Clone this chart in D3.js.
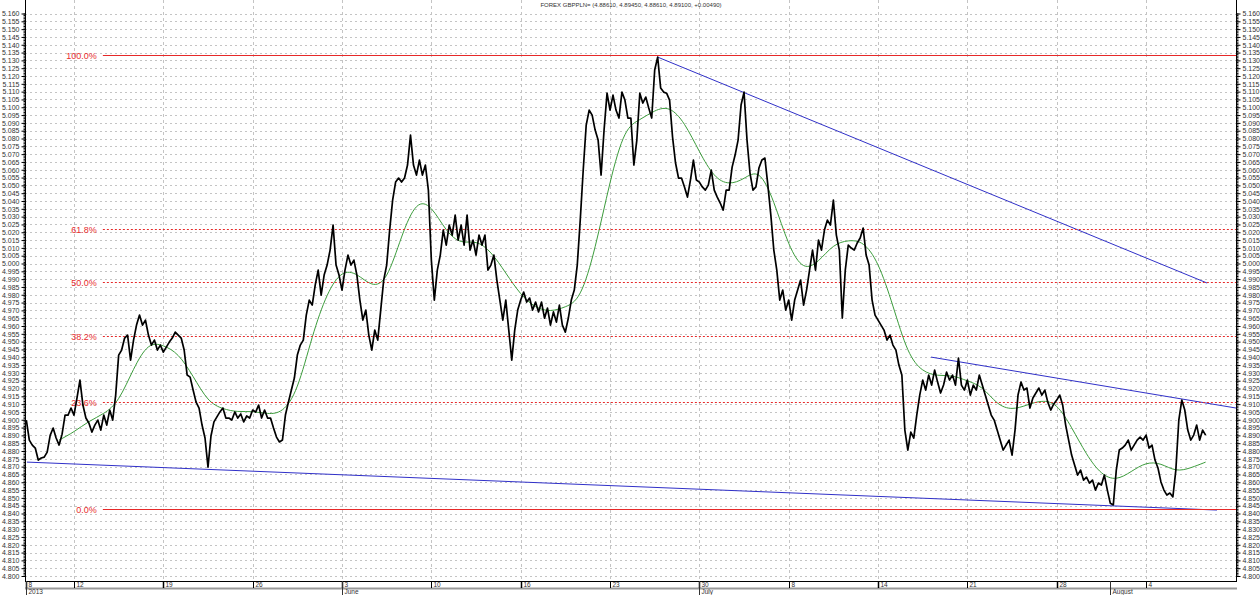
<!DOCTYPE html>
<html><head><meta charset="utf-8">
<script src="https://cdn.jsdelivr.net/npm/d3@7"></script>
<style>
body{margin:0;background:#fff}
svg{display:block}
text{font-family:"Liberation Sans",Arial,sans-serif}
</style>
</head><body>
<svg id="c" width="1260" height="595"></svg>
<script>
// ---------- DATA ----------
const title = "FOREX GBPPLN= (4.88610, 4.89450, 4.88610, 4.89100, +0.00490)";
// 4-hour bars; bar 0 = start of week of 12/13 May 2013, 30 bars per week
const firstBar = -16;
const price = [
 4.8998,4.8870,4.8838,4.8819,4.8742,4.8755,4.8761,4.8793,4.8900,4.8947,4.8883,4.8838,4.8908,4.9030,4.9030,4.9075,
 4.9030,4.9139,4.9254,4.9094,4.9011,4.8979,4.8921,4.8966,4.8998,4.8934,4.9030,4.8966,4.9062,4.8998,4.9158,4.9414,4.9446,4.9523,4.9542,4.9382,4.9510,4.9606,4.9670,4.9606,4.9638,4.9542,4.9478,4.9510,4.9446,4.9478,
 4.9433,4.9465,4.9497,4.9523,4.9561,4.9542,4.9523,4.9446,4.9286,4.9273,4.9190,4.9113,4.9075,4.8966,4.8883,4.8697,4.8896,4.8986,4.9018,4.9050,4.9075,4.9011,4.9011,4.8998,4.9050,4.9011,4.9037,4.8986,4.9024,4.9011,
 4.9062,4.9049,4.9094,4.9011,4.9062,4.9011,4.9011,4.8947,4.8889,4.8858,4.8870,4.9030,4.9113,4.9190,4.9267,4.9414,4.9478,4.9510,4.9670,4.9766,4.9734,4.9862,4.9958,4.9798,4.9926,4.9990,5.0086,5.0246,4.9990,4.9926,
 4.9830,4.9958,5.0054,4.9990,5.0022,4.9926,4.9766,4.9638,4.9702,4.9542,4.9446,4.9574,4.9510,4.9702,4.9894,4.9990,5.0214,5.0406,5.0521,5.0547,5.0521,5.0547,5.0630,5.0822,5.0630,5.0566,5.0662,5.0566,5.0630,5.0470,
 5.0022,4.9766,4.9958,5.0054,5.0214,5.0118,5.0246,5.0182,5.0310,5.0150,5.0246,5.0118,5.0310,5.0086,5.0150,5.0054,5.0182,5.0118,5.0182,4.9958,4.9990,5.0054,4.9894,4.9766,4.9638,4.9766,4.9574,4.9382,4.9574,4.9702,
 4.9766,4.9817,4.9753,4.9779,4.9702,4.9753,4.9690,4.9753,4.9650,4.9715,4.9606,4.9690,4.9625,4.9734,4.9606,4.9561,4.9651,4.9766,4.9830,4.9990,5.0278,5.0598,5.0886,5.0982,5.0950,5.0854,5.0790,5.0566,5.0854,5.1090,
 5.0982,5.1078,5.0982,5.0931,5.1097,5.1046,5.0931,5.0931,5.0630,5.0790,5.1090,5.1027,5.1065,5.0995,5.0931,5.1238,5.1321,5.1123,5.1097,5.1090,5.1046,5.0809,5.0643,5.0547,5.0547,5.0490,5.0425,5.0534,5.0662,5.0534,
 5.0521,5.0490,5.0470,5.0502,5.0598,5.0470,5.0425,5.0387,5.0342,5.0470,5.0470,5.0617,5.0694,5.0790,5.1014,5.1097,5.0790,5.0579,5.0470,5.0490,5.0611,5.0662,5.0675,5.0502,5.0310,5.0086,4.9958,4.9766,4.9830,4.9702,
 4.9766,4.9638,4.9766,4.9830,4.9894,4.9734,4.9830,4.9958,5.0086,4.9958,5.0150,5.0086,5.0214,5.0278,5.0246,5.0406,5.0182,5.0086,4.9651,4.9958,5.0118,5.0099,5.0086,5.0131,5.0163,5.0227,5.0054,4.9990,4.9766,4.9670,
 4.9638,4.9606,4.9574,4.9510,4.9542,4.9478,4.9446,4.9350,4.9286,4.8934,4.8806,4.8921,4.8883,4.9030,4.9158,4.9254,4.9190,4.9286,4.9222,4.9318,4.9241,4.9171,4.9222,4.9305,4.9254,4.9286,4.9222,4.9395,4.9222,4.9190,
 4.9254,4.9158,4.9222,4.9190,4.9286,4.9222,4.9158,4.9094,4.9030,4.8998,4.8934,4.8870,4.8806,4.8838,4.8870,4.8774,4.8934,4.9158,4.9241,4.9190,4.9203,4.9075,4.9139,4.9171,4.9203,4.9158,4.9190,4.9113,4.9062,4.9101,
 4.9126,4.9158,4.9094,4.8966,4.8870,4.8774,4.8710,4.8646,4.8678,4.8614,4.8633,4.8595,4.8614,4.8550,4.8595,4.8582,4.8646,4.8550,4.8465,4.8455,4.8678,4.8806,4.8819,4.8838,4.8870,4.8806,4.8838,4.8870,4.8889,4.8870,
 4.8902,4.8819,4.8838,4.8742,4.8691,4.8602,4.8550,4.8518,4.8531,4.8506,4.8678,4.8998,4.9126,4.9062,4.8934,4.8870,4.8902,4.8966,4.8870,4.8934,4.8902
];
// moving average, sampled every 5 bars from bar -5
const maFirstBar = -5, maStep = 5;
const maValues = [
 4.8870,4.8921,4.8992,4.9036,4.9113,4.9331,4.9497,4.9478,4.9427,4.9280,4.9113,4.9068,4.9049,4.9056,4.9036,4.9043,
 4.9177,4.9542,4.9817,4.9958,4.9939,4.9849,4.9881,5.0182,5.0406,5.0374,5.0201,5.0124,5.0150,5.0079,4.9939,4.9798,
 4.9715,4.9690,4.9721,4.9766,5.0086,5.0534,5.0873,5.0918,5.0982,5.1008,5.0905,5.0713,5.0547,5.0502,5.0540,5.0610,
 5.0406,5.0105,4.9952,5.0009,5.0124,5.0150,5.0144,5.0016,4.9734,4.9414,4.9305,4.9280,4.9286,4.9248,4.9216,4.9094,
 4.9062,4.9094,4.9126,4.9107,4.8953,4.8774,4.8646,4.8610,4.8668,4.8729,4.8723,4.8666,4.8691,4.8729
];
const yTickMin = 4.800, yTickMax = 5.160, yTickStep = 0.005, yMinorStep = 0.001;
const weekTickBars = [-16,0,30,60,90,120,150,180,210,240,270,300,330,360];
const weekTickLabels = ["8","12","19","26","3","10","16","23","30","8","14","21","28","4"];
const monthTickBars = [-16,90,210,348];
const monthLabels = ["2013","June","July","August"];
const fibRatios = [0,0.236,0.382,0.5,0.618,1];
const fibLabels = ["0.0%","23.6%","38.2%","50.0%","61.8%","100.0%"];
const fibLow = 4.8428, fibHigh = 5.1334, fibStartBar = 9.7;
const trendStart = [[196,5.1321],[287.8,4.9401],[-15.8,4.8729]];
const trendEnd   = [[380.5,4.9875],[390.2,4.9075],[383.8,4.8422]];

// ---------- CHART ----------
const svg = d3.select("#c");
const left = 25, right = 1236, axisY = 581;
const x = d3.scaleLinear().domain([-16.45, 390.2]).range([left, right]);
const y = d3.scaleLinear().domain([yTickMin, yTickMax]).range([576, 13.5]);
const majors = d3.range(0, Math.round((yTickMax-yTickMin)/yTickStep)+1).map(i => +(yTickMin + i*yTickStep).toFixed(3));
const minors = d3.range(0, Math.round((yTickMax-yTickMin)/yMinorStep)+1).map(i => +(yTickMin + i*yMinorStep).toFixed(3));

// grid
svg.append("g").selectAll("line").data(majors).join("line")
  .attr("x1", left).attr("x2", right).attr("y1", d => Math.round(y(d))+0.5).attr("y2", d => Math.round(y(d))+0.5)
  .attr("stroke", "#c4c4c4").attr("stroke-dasharray", "2,3");
svg.append("g").selectAll("line").data(weekTickBars.slice(1)).join("line")
  .attr("x1", d => Math.round(x(d))+0.5).attr("x2", d => Math.round(x(d))+0.5).attr("y1", 0).attr("y2", axisY)
  .attr("stroke", "#c4c4c4").attr("stroke-dasharray", "3,3");

// trend lines
svg.append("g").selectAll("line").data(trendStart).join("line")
  .attr("x1", d => x(d[0])).attr("y1", d => y(d[1]))
  .attr("x2", (d,i) => x(trendEnd[i][0])).attr("y2", (d,i) => y(trendEnd[i][1]))
  .attr("stroke", "#3030c8").attr("stroke-width", 1);

// moving average
svg.append("path").datum(maValues)
  .attr("d", d3.line().x((d,i) => x(maFirstBar + i*maStep)).y(d => y(d)).curve(d3.curveBasis))
  .attr("fill", "none").attr("stroke", "#3c9c3c").attr("stroke-width", 1);

// fib levels
const fibG = svg.append("g");
fibRatios.forEach((r, i) => {
  const v = fibLow + r*(fibHigh-fibLow);
  const yy = Math.round(y(v));
  const solid = (r === 0 || r === 1);
  const ln = fibG.append("line").attr("x1", x(fibStartBar)).attr("x2", right).attr("y1", yy+0.5).attr("y2", yy+0.5)
    .style("stroke", "rgb(230,40,40)").style("stroke-width", 1);
  if (!solid) ln.style("stroke-dasharray", "2,2");
  fibG.append("text").attr("x", x(fibStartBar)-6).attr("y", yy+3.5).attr("text-anchor", "end")
    .attr("font-size", 9).style("fill", "rgb(232,44,44)").text(fibLabels[i]);
});

// price
svg.append("path").datum(price)
  .attr("d", d3.line().x((d,i) => x(firstBar + i)).y(d => y(d)))
  .attr("fill", "none").attr("stroke", "#000").attr("stroke-width", 1.7).attr("stroke-linejoin", "round");

// y axes
function yAxis(gen, xpos) {
  const g1 = svg.append("g").attr("transform", `translate(${xpos},0)`)
    .call(gen(y).tickValues(minors).tickSize(2).tickFormat(""));
  g1.select(".domain").remove();
  g1.selectAll("line").attr("stroke", "#000");
  const g2 = svg.append("g").attr("transform", `translate(${xpos},0)`)
    .call(gen(y).tickValues(majors).tickSize(4).tickPadding(2).tickFormat(d3.format(".3f")));
  g2.select(".domain").remove();
  g2.selectAll("line").attr("stroke", "#000");
  g2.selectAll("text").attr("font-size", 7).attr("fill", "#333").attr("font-family", "Liberation Sans, Arial, sans-serif");
}
yAxis(d3.axisLeft, left+0.5);
yAxis(d3.axisRight, right+0.5);
svg.append("line").attr("x1", left+0.5).attr("x2", left+0.5).attr("y1", 0).attr("y2", axisY).attr("stroke", "#000");
svg.append("line").attr("x1", right+0.5).attr("x2", right+0.5).attr("y1", 0).attr("y2", axisY).attr("stroke", "#000");

// bottom date axis
svg.append("line").attr("x1", left).attr("x2", right+1).attr("y1", axisY+0.5).attr("y2", axisY+0.5).attr("stroke", "#000");
svg.append("line").attr("x1", left).attr("x2", right+1).attr("y1", 588.5).attr("y2", 588.5).attr("stroke", "#999").attr("stroke-width", 2);
const xb = svg.append("g");
weekTickBars.forEach((b, i) => {
  const xx = Math.round(x(b))+0.5;
  xb.append("line").attr("x1", xx).attr("x2", xx).attr("y1", axisY).attr("y2", 588).attr("stroke", "#000").attr("stroke-width", i % 2 ? 1 : 1.5);
  xb.append("text").attr("x", xx+2).attr("y", 587).attr("font-size", 6.5).attr("fill", "#333").text(weekTickLabels[i]);
});
monthTickBars.forEach((b, i) => {
  const xx = Math.round(x(b))+0.5;
  xb.append("line").attr("x1", xx).attr("x2", xx).attr("y1", axisY).attr("y2", 595).attr("stroke", "#333");
  xb.append("text").attr("x", xx+2).attr("y", 594).attr("font-size", 6.5).attr("fill", "#333").text(monthLabels[i]);
});

// title
svg.append("text").attr("x", 631).attr("y", 6.5).attr("text-anchor", "middle")
  .attr("font-size", 6).attr("fill", "#333").text(title);
</script>
</body></html>
